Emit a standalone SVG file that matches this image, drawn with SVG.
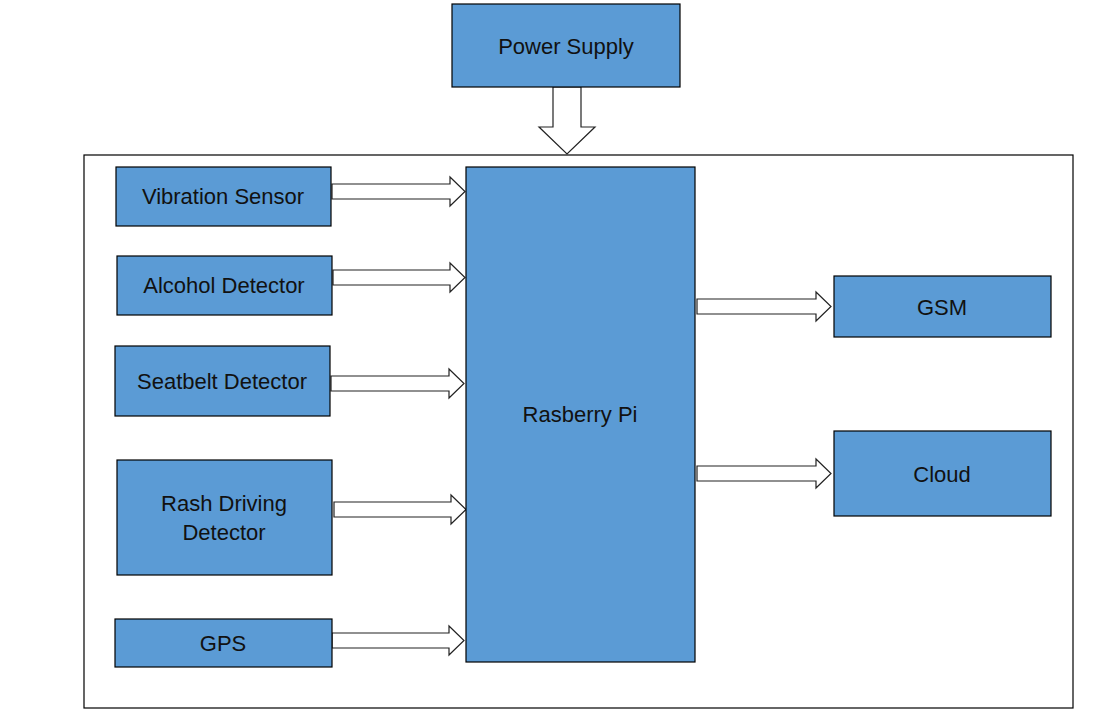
<svg xmlns="http://www.w3.org/2000/svg" width="1115" height="723" viewBox="0 0 1115 723">
<style>
.box{fill:#5B9BD5;stroke:#000;stroke-width:1.2}
.lbl{font-family:"Liberation Sans",Arial,sans-serif;font-size:22px;fill:#111;text-anchor:middle}
.arr{fill:#fff;stroke:#222;stroke-width:1.2;stroke-linejoin:miter}
</style>
<rect width="1115" height="723" fill="#fff"/>
<rect x="84" y="155" width="989" height="553" fill="none" stroke="#000" stroke-width="1.2"/>
<g id="connectors">
<path class="arr" d="M553,87 V127 H539 L567,154 L595,127 H581 V87 Z"/>
<path class="arr" d="M332,184 H450 V177 L465,191.5 L450,206 V199 H332 Z"/>
<path class="arr" d="M333,270 H450 V263 L465,277.5 L450,292 V285 H333 Z"/>
<path class="arr" d="M331,376 H449 V369 L464,383.5 L449,398 V391 H331 Z"/>
<path class="arr" d="M334,502 H451 V495 L466,509.5 L451,524 V517 H334 Z"/>
<path class="arr" d="M332,633 H449 V626 L464,640.5 L449,655 V648 H332 Z"/>
<path class="arr" d="M697,299 H816 V292 L831,306.5 L816,321 V314 H697 Z"/>
<path class="arr" d="M697,466 H816 V459 L831,473.5 L816,488 V481 H697 Z"/>
</g>
<g id="power"><rect class="box" x="452" y="4" width="228" height="83"/><text class="lbl" x="566" y="54">Power Supply</text></g>
<g id="vibration"><rect class="box" x="116" y="167" width="215" height="59"/><text class="lbl" x="223" y="204">Vibration Sensor</text></g>
<g id="alcohol"><rect class="box" x="117" y="256" width="215" height="59"/><text class="lbl" x="224" y="293">Alcohol Detector</text></g>
<g id="seatbelt"><rect class="box" x="115" y="346" width="215" height="70"/><text class="lbl" x="222" y="389">Seatbelt Detector</text></g>
<g id="rash"><rect class="box" x="117" y="460" width="215" height="115"/><text class="lbl" x="224" y="511">Rash Driving</text><text class="lbl" x="224" y="540">Detector</text></g>
<g id="gps"><rect class="box" x="115" y="619" width="217" height="48"/><text class="lbl" x="223" y="651">GPS</text></g>
<g id="rpi"><rect class="box" x="466" y="167" width="229" height="495"/><text class="lbl" x="580" y="422">Rasberry Pi</text></g>
<g id="gsm"><rect class="box" x="834" y="276" width="217" height="61"/><text class="lbl" x="942" y="315">GSM</text></g>
<g id="cloud"><rect class="box" x="834" y="431" width="217" height="85"/><text class="lbl" x="942" y="482">Cloud</text></g>
</svg>
